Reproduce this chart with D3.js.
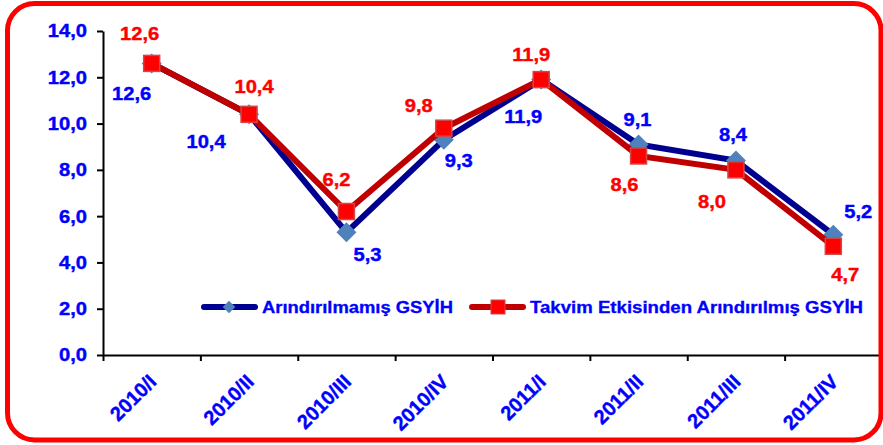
<!DOCTYPE html>
<html>
<head>
<meta charset="utf-8">
<script src="https://cdn.jsdelivr.net/npm/d3@7"></script>
<style>
  body { margin: 0; background: #fff; }
  text { font-family: Arial, "Liberation Sans", sans-serif; font-weight: bold; }
</style>
</head>
<body>
<div id="chart"></div>
<script>
// data
const quarters = ["2010/I", "2010/II", "2010/III", "2010/IV", "2011/I", "2011/II", "2011/III", "2011/IV"];
const rawGdp = [12.6, 10.4, 5.3, 9.3, 11.9, 9.1, 8.4, 5.2];
const adjustedGdp = [12.6, 10.4, 6.2, 9.8, 11.9, 8.6, 8.0, 4.7];
const seriesNames = ["Arındırılmamış GSYİH", "Takvim Etkisinden Arındırılmış GSYİH"];
const yTicks = [0, 2, 4, 6, 8, 10, 12, 14];

// label offsets from each point (layout only)
const rawLabelOffset = [[-20, 30], [-43, 27], [21, 22], [15, 21], [-18, 37], [-1, -25], [-3, -26], [25, -23]];
const adjLabelOffset = [[-12, -30], [5, -28], [-10, -32], [-25, -23], [-10, -25], [-14, 29], [-24, 32], [12, 28]];

const W = 883, H = 445;
const plotL = 103, plotR = 882, plotT = 31, plotB = 355;

const svg = d3.select("#chart").append("svg")
  .attr("width", W)
  .attr("height", H);

const x = d3.scaleBand().domain(quarters).range([plotL, plotR]);
const xEdge = d3.scaleLinear().domain([0, quarters.length]).range([plotL, plotR]);
const y = d3.scaleLinear().domain([0, 14]).range([plotB, plotT]);
const fmt = v => d3.format(".1f")(v).replace(".", ",");
const cx = (d, i) => x(quarters[i]) + x.bandwidth() / 2;

// Y axis
const yAxis = svg.append("g")
  .attr("transform", `translate(${plotL},0)`)
  .call(d3.axisLeft(y).tickValues(yTicks).tickSize(6).tickSizeOuter(0).tickFormat(""));
yAxis.select(".domain").attr("stroke", "#000").attr("stroke-width", 2);
yAxis.selectAll(".tick line").attr("stroke", "#000").attr("stroke-width", 2);

svg.selectAll("text.ylab")
  .data(yTicks)
  .join("text")
    .attr("class", "ylab")
    .attr("transform", d => `translate(87,${y(d)}) scale(1.12,1)`)
    .attr("dy", "0.36em")
    .attr("text-anchor", "end")
    .style("font-size", "18px")
    .attr("fill", "#0000ff")
    .attr("stroke", "#0000ff")
    .attr("stroke-width", 0.4)
    .text(fmt);

// X axis (ticks on category edges)
const xAxis = svg.append("g")
  .attr("transform", `translate(0,${plotB})`)
  .call(d3.axisBottom(xEdge).tickValues(d3.range(quarters.length + 1)).tickSize(6).tickSizeOuter(0).tickFormat(""));
xAxis.select(".domain").attr("stroke", "#000").attr("stroke-width", 2);
xAxis.selectAll(".tick line").attr("stroke", "#000").attr("stroke-width", 2);

svg.selectAll("text.xlab")
  .data(quarters)
  .join("text")
    .attr("class", "xlab")
    .attr("transform", d => `translate(${x(d) + x.bandwidth() / 2 + 6},${plotB + 28}) rotate(-45)`)
    .attr("text-anchor", "end")
    .style("font-size", "20px")
    .attr("fill", "#0000ff")
    .attr("stroke", "#0000ff")
    .attr("stroke-width", 0.4)
    .text(d => d);

// lines
const line = d3.line().x(cx).y(d => y(d));

svg.append("path")
  .datum(rawGdp)
  .attr("d", line)
  .attr("fill", "none")
  .attr("stroke", "#000090")
  .attr("stroke-width", 6);

const diamond = d3.symbol().type(d3.symbolSquare).size(200);
svg.selectAll("path.rawpt")
  .data(rawGdp)
  .join("path")
    .attr("class", "rawpt")
    .attr("d", diamond)
    .attr("transform", (d, i) => `translate(${cx(d, i)},${y(d)}) rotate(45)`)
    .attr("fill", "#4f81bd");

svg.append("path")
  .datum(adjustedGdp)
  .attr("d", line)
  .attr("fill", "none")
  .attr("stroke", "#c00000")
  .attr("stroke-width", 6);

svg.selectAll("rect.adjpt")
  .data(adjustedGdp)
  .join("rect")
    .attr("class", "adjpt")
    .attr("x", (d, i) => cx(d, i) - 8)
    .attr("y", d => y(d) - 8)
    .attr("width", 16)
    .attr("height", 16)
    .attr("fill", "#ff0000")
    .attr("stroke", "#d04848")
    .attr("stroke-width", 1.5);

// data labels
svg.selectAll("text.rawlab")
  .data(rawGdp)
  .join("text")
    .attr("class", "rawlab")
    .attr("transform", (d, i) => `translate(${cx(d, i) + rawLabelOffset[i][0]},${y(d) + rawLabelOffset[i][1]}) scale(1.12,1)`)
    .attr("dy", "0.36em")
    .attr("text-anchor", "middle")
    .style("font-size", "18px")
    .attr("fill", "#0000ff")
    .attr("stroke", "#0000ff")
    .attr("stroke-width", 0.4)
    .text(fmt);

svg.selectAll("text.adjlab")
  .data(adjustedGdp)
  .join("text")
    .attr("class", "adjlab")
    .attr("transform", (d, i) => `translate(${cx(d, i) + adjLabelOffset[i][0]},${y(d) + adjLabelOffset[i][1]}) scale(1.12,1)`)
    .attr("dy", "0.36em")
    .attr("text-anchor", "middle")
    .style("font-size", "18px")
    .attr("fill", "#ff0000")
    .attr("stroke", "#ff0000")
    .attr("stroke-width", 0.4)
    .text(fmt);

// legend
const legendY = 307;
const leg = svg.append("g");
leg.append("line").attr("x1", 204).attr("x2", 255).attr("y1", legendY).attr("y2", legendY)
  .attr("stroke", "#000090").attr("stroke-width", 6).attr("stroke-linecap", "round");
leg.append("path").attr("d", d3.symbol().type(d3.symbolSquare).size(80))
  .attr("transform", `translate(229,${legendY}) rotate(45)`).attr("fill", "#4f81bd");
leg.append("text").attr("x", 262).attr("y", legendY).attr("dy", "0.36em")
  .attr("textLength", 191).attr("lengthAdjust", "spacingAndGlyphs")
  .style("font-size", "16px").attr("fill", "#0000ff")
  .attr("stroke", "#0000ff").attr("stroke-width", 0.3)
  .text(seriesNames[0]);

leg.append("line").attr("x1", 472).attr("x2", 523).attr("y1", legendY).attr("y2", legendY)
  .attr("stroke", "#c00000").attr("stroke-width", 6).attr("stroke-linecap", "round");
leg.append("rect").attr("x", 491).attr("y", legendY - 7).attr("width", 14).attr("height", 14)
  .attr("fill", "#ff0000").attr("stroke", "#d04848").attr("stroke-width", 1);
leg.append("text").attr("x", 530).attr("y", legendY).attr("dy", "0.36em")
  .attr("textLength", 333).attr("lengthAdjust", "spacingAndGlyphs")
  .style("font-size", "16px").attr("fill", "#0000ff")
  .attr("stroke", "#0000ff").attr("stroke-width", 0.3)
  .text(seriesNames[1]);

// rounded red frame
svg.append("rect")
  .attr("x", 7.5).attr("y", 3.5)
  .attr("width", 873.5).attr("height", 436.5)
  .attr("rx", 27).attr("ry", 27)
  .attr("fill", "none")
  .attr("stroke", "#ff0000")
  .attr("stroke-width", 5);
</script>
</body>
</html>
